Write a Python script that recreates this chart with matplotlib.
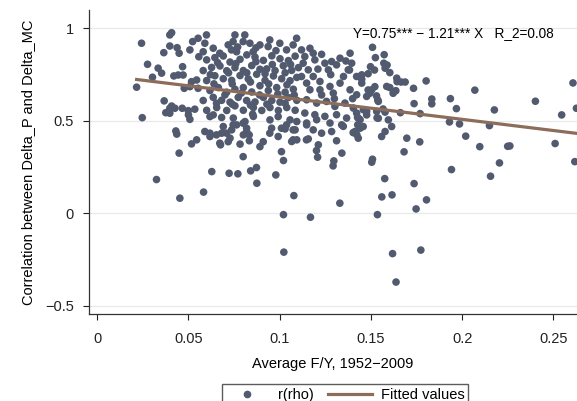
import numpy as np
import matplotlib
matplotlib.use('Agg')
import matplotlib.pyplot as plt
from matplotlib.lines import Line2D

plt.rcParams['font.family'] = ['Liberation Sans', 'DejaVu Sans']

# points, grouped by region (x = average F/Y, y = rho)
left_x = [0.0243, 0.0398, 0.0408, 0.0365, 0.0398, 0.0438, 0.0449, 0.0508, 0.0523, 0.0553,
          0.0557, 0.0276, 0.0334, 0.0353, 0.0303, 0.0216, 0.0468, 0.0420, 0.0444, 0.0471,
          0.0517, 0.0545, 0.0508, 0.0477, 0.0553, 0.0367, 0.0426, 0.0398, 0.0376, 0.0466,
          0.0499, 0.0535, 0.0247, 0.0508, 0.0431, 0.0436, 0.0517, 0.0545, 0.0408, 0.0398,
          0.0500, 0.0449, 0.0325, 0.0453]
left_y = [0.920, 0.965, 0.977, 0.869, 0.905, 0.896, 0.866, 0.884, 0.929, 0.947,
          0.847, 0.806, 0.785, 0.758, 0.736, 0.682, 0.793, 0.743, 0.748, 0.748,
          0.712, 0.721, 0.685, 0.676, 0.676, 0.608, 0.568, 0.568, 0.544, 0.568,
          0.555, 0.563, 0.517, 0.508, 0.445, 0.428, 0.375, 0.397, 0.580, 0.541,
          0.532, 0.325, 0.182, 0.081]

midlow_x = [0.0590, 0.0618, 0.0654, 0.0682, 0.0672, 0.0718, 0.0709, 0.0800, 0.0819, 0.0833,
            0.0745, 0.0800, 0.0819, 0.0892, 0.0910, 0.0946, 0.0992, 0.1010, 0.1010, 0.0992,
            0.1038, 0.0852, 0.0636, 0.0618, 0.0682, 0.0618, 0.0691, 0.0676, 0.0728, 0.0737,
            0.0764, 0.0810, 0.0819, 0.0801, 0.0783, 0.0834, 0.0947, 0.0956, 0.1030, 0.1057,
            0.1085, 0.1094, 0.1066, 0.1094, 0.1021, 0.0583, 0.0628, 0.0723, 0.0771, 0.0841,
            0.0873, 0.0875, 0.0979, 0.1021, 0.1023, 0.1078, 0.0746, 0.0856]
midlow_y = [0.442, 0.433, 0.424, 0.433, 0.379, 0.387, 0.433, 0.306, 0.433, 0.424,
            0.478, 0.487, 0.460, 0.360, 0.387, 0.433, 0.415, 0.460, 0.333, 0.523,
            0.478, 0.536, 0.532, 0.523, 0.518, 0.415, 0.469, 0.370, 0.406, 0.451,
            0.478, 0.496, 0.442, 0.424, 0.374, 0.392, 0.505, 0.460, 0.456, 0.505,
            0.451, 0.496, 0.388, 0.397, 0.285, 0.114, 0.225, 0.216, 0.213, 0.229,
            0.247, 0.162, 0.207, -0.008, -0.211, 0.095, 0.515, 0.524]

core_x = [0.0755, 0.0809, 0.0800, 0.0745, 0.0718, 0.0736, 0.0764, 0.0837, 0.0855, 0.0892,
          0.0946, 0.1001, 0.0937, 0.1038, 0.1074, 0.1093, 0.0599, 0.0590, 0.0581, 0.0636,
          0.0672, 0.0600, 0.0645, 0.0691, 0.0728, 0.0783, 0.0820, 0.0865, 0.0911, 0.0957,
          0.1002, 0.1048, 0.1085, 0.0581, 0.0627, 0.0673, 0.0710, 0.0755, 0.0801, 0.0847,
          0.0892, 0.0929, 0.0975, 0.1020, 0.1066, 0.1103, 0.0600, 0.0645, 0.0691, 0.0737,
          0.0783, 0.0828, 0.0874, 0.0920, 0.0966, 0.1011, 0.1057, 0.1094, 0.0618, 0.0664,
          0.0710, 0.0755, 0.0801, 0.0847, 0.0892, 0.0938, 0.0984, 0.1030, 0.1075, 0.0581,
          0.0636, 0.0682, 0.0728, 0.0773, 0.0819, 0.0865, 0.0911, 0.0957, 0.1002, 0.1048,
          0.1094, 0.0600, 0.0655, 0.0710, 0.0755, 0.0801, 0.0856, 0.0902, 0.0947, 0.0993,
          0.1039, 0.1085, 0.0654, 0.0770, 0.0870, 0.0980, 0.0660, 0.0760, 0.0870, 0.0960,
          0.1060, 0.0620, 0.0720, 0.0820, 0.0920, 0.1030, 0.0640, 0.0740, 0.0840, 0.0940,
          0.1040, 0.0700, 0.0790, 0.0890, 0.0990, 0.1080, 0.0740, 0.0840, 0.0930, 0.1030]
core_y = [0.965, 0.965, 0.929, 0.929, 0.911, 0.884, 0.874, 0.920, 0.874, 0.911,
          0.938, 0.920, 0.902, 0.884, 0.911, 0.947, 0.965, 0.920, 0.874, 0.893,
          0.866, 0.830, 0.842, 0.851, 0.818, 0.833, 0.857, 0.845, 0.827, 0.852,
          0.836, 0.826, 0.850, 0.772, 0.789, 0.797, 0.771, 0.788, 0.772, 0.799,
          0.779, 0.781, 0.772, 0.798, 0.773, 0.788, 0.718, 0.744, 0.728, 0.719,
          0.745, 0.727, 0.752, 0.719, 0.743, 0.728, 0.717, 0.735, 0.664, 0.680,
          0.655, 0.671, 0.680, 0.656, 0.690, 0.664, 0.680, 0.655, 0.671, 0.610,
          0.627, 0.611, 0.601, 0.627, 0.610, 0.602, 0.627, 0.610, 0.601, 0.626,
          0.611, 0.557, 0.572, 0.556, 0.581, 0.557, 0.572, 0.556, 0.572, 0.556,
          0.572, 0.557, 0.595, 0.900, 0.895, 0.880, 0.815, 0.810, 0.820, 0.805,
          0.805, 0.750, 0.760, 0.760, 0.755, 0.760, 0.700, 0.700, 0.710, 0.700,
          0.695, 0.640, 0.650, 0.640, 0.645, 0.640, 0.590, 0.585, 0.590, 0.595]

right_x = [0.1120, 0.1138, 0.1129, 0.1157, 0.1120, 0.1148, 0.1184, 0.1193, 0.1166, 0.1248,
           0.1285, 0.1267, 0.1312, 0.1331, 0.1386, 0.1376, 0.1395, 0.1422, 0.1450, 0.1450,
           0.1578, 0.1642, 0.1541, 0.1587, 0.1184, 0.1221, 0.1166, 0.1221, 0.1276, 0.1294,
           0.1331, 0.1386, 0.1422, 0.1477, 0.1505, 0.1148, 0.1203, 0.1257, 0.1303, 0.1358,
           0.1404, 0.1459, 0.1138, 0.1193, 0.1248, 0.1312, 0.1367, 0.1422, 0.1477, 0.1532,
           0.1148, 0.1203, 0.1276, 0.1349, 0.1441, 0.1230, 0.1280, 0.1350, 0.1210, 0.1300,
           0.1230, 0.1400]
right_y = [0.884, 0.848, 0.812, 0.776, 0.740, 0.704, 0.866, 0.830, 0.893, 0.812,
           0.821, 0.776, 0.803, 0.839, 0.866, 0.776, 0.812, 0.740, 0.704, 0.749,
           0.785, 0.731, 0.605, 0.686, 0.740, 0.713, 0.668, 0.668, 0.686, 0.650,
           0.704, 0.668, 0.641, 0.632, 0.668, 0.614, 0.596, 0.605, 0.578, 0.596,
           0.569, 0.560, 0.542, 0.533, 0.524, 0.533, 0.515, 0.542, 0.551, 0.551,
           0.488, 0.506, 0.488, 0.470, 0.506, 0.860, 0.750, 0.740, 0.780, 0.620,
           0.640, 0.620]

fringe_x = [0.1148, 0.1184, 0.1157, 0.1230, 0.1285, 0.1312, 0.1340, 0.1212, 0.1431, 0.1477,
            0.1413, 0.1441, 0.1431, 0.1559, 0.1578, 0.1614, 0.1541, 0.1596, 0.1803, 0.2070,
            0.2402, 0.2608, 0.2627, 0.2546, 0.2177, 0.1969, 0.1936, 0.1834, 0.1834, 0.1737,
            0.1734, 0.1931, 0.1986, 0.2150, 0.2020, 0.2097, 0.2250, 0.2262, 0.2510, 0.1768,
            0.1697, 0.1770, 0.1662, 0.1688, 0.1666, 0.1644, 0.1604, 0.1622, 0.1637, 0.1573,
            0.1589, 0.1604, 0.1571, 0.1509, 0.1525, 0.1363, 0.1383, 0.1485, 0.1498, 0.1520,
            0.1450, 0.1485, 0.1522, 0.1531, 0.1538, 0.1494, 0.1578, 0.1567, 0.1534, 0.1427,
            0.1428, 0.1458, 0.1403, 0.1423, 0.1147, 0.1074, 0.1074]
fringe_y = [0.478, 0.451, 0.402, 0.433, 0.442, 0.392, 0.478, 0.370, 0.514, 0.532,
            0.442, 0.460, 0.406, 0.415, 0.442, 0.469, 0.514, 0.505, 0.716, 0.666,
            0.606, 0.705, 0.568, 0.532, 0.559, 0.566, 0.620, 0.618, 0.592, 0.593,
            0.676, 0.494, 0.483, 0.474, 0.417, 0.360, 0.362, 0.364, 0.377, 0.386,
            0.406, 0.539, 0.544, 0.710, 0.710, 0.712, 0.680, 0.649, 0.663, 0.858,
            0.802, 0.761, 0.812, 0.898, 0.842, 0.824, 0.775, 0.755, 0.793, 0.775,
            0.725, 0.667, 0.685, 0.635, 0.613, 0.649, 0.547, 0.564, 0.516, 0.519,
            0.478, 0.469, 0.436, 0.425, 0.397, 0.397, 0.451]

low_x = [0.1169, 0.1208, 0.1202, 0.1341, 0.1297, 0.1293, 0.1330, 0.1509, 0.1505, 0.1682,
         0.1576, 0.1560, 0.1616, 0.1536, 0.1737, 0.1748, 0.1805, 0.1619, 0.1774, 0.1638,
         0.1942, 0.2156, 0.2205, 0.2618]
low_y = [-0.022, 0.303, 0.339, 0.325, 0.283, 0.256, 0.054, 0.292, 0.276, 0.332,
         0.187, 0.088, 0.099, -0.008, 0.160, 0.023, 0.072, -0.219, -0.200, -0.373,
         0.236, 0.200, 0.272, 0.279]

# fitted line from the annotation
b0, b1 = 0.75, -1.21

x = np.array(left_x + midlow_x + core_x + right_x + fringe_x + low_x)
y = np.array(left_y + midlow_y + core_y + right_y + fringe_y + low_y)

dot_color = '#515a6e'
line_color = '#8c6c5a'
fs = 10.5

fig = plt.figure(figsize=(5.77, 4.01), dpi=100)
ax = fig.add_axes([89/577, 87/401, 1 - 89/577, 1 - 87/401 - 10/401])

ax.scatter(x, y, s=30, color=dot_color, edgecolors='none', zorder=3)
xf = np.array([x.min(), x.max()])
ax.plot(xf, b0 + b1 * xf, color=line_color, lw=2.3, zorder=4)

ax.set_xlim(-0.0045, 0.263)
ax.set_ylim(-0.546, 1.1)
ax.set_xticks([0, 0.05, 0.1, 0.15, 0.2, 0.25])
ax.set_xticklabels(['0', '0.05', '0.1', '0.15', '0.2', '0.25'])
ax.set_yticks([-0.5, 0, 0.5, 1])
ax.set_yticklabels(['\u22120.5', '0', '0.5', '1'])
ax.yaxis.grid(True, color='#e9e9e9', lw=0.9, zorder=0)
ax.set_axisbelow(True)
for s in ['top', 'right']:
    ax.spines[s].set_visible(False)
for s in ['left', 'bottom']:
    ax.spines[s].set_color('#333333')
    ax.spines[s].set_linewidth(0.9)
ax.tick_params(axis='x', length=4, width=0.8, pad=9, labelsize=fs, colors='#222222')
ax.tick_params(axis='y', length=4, width=0.8, pad=7, labelsize=fs, colors='#222222')

ax.set_xlabel('Average F/Y, 1952\u22122009', fontsize=fs, labelpad=8)
ax.set_ylabel('Correlation between Delta_P and Delta_MC', fontsize=fs, labelpad=7)

ax.text(0.1955, 0.976, 'Y=0.75*** \u2212 1.21*** X   R_2=0.08', fontsize=9.8,
        ha='center', va='center', zorder=5)

handles = [Line2D([], [], marker='o', ls='none', color=dot_color, markersize=4.5),
           Line2D([], [], color=line_color, lw=2.3)]
fig.legend(handles, ['r(rho)', 'Fitted values'], loc='upper center',
           bbox_to_anchor=(345/577, 1 - 384/401), ncol=2, fontsize=fs,
           frameon=True, fancybox=False, edgecolor='#333333', borderpad=0.25,
           borderaxespad=0, handlelength=3.0, columnspacing=1.0, handletextpad=0.6)

fig.savefig('out.png', dpi=100)
